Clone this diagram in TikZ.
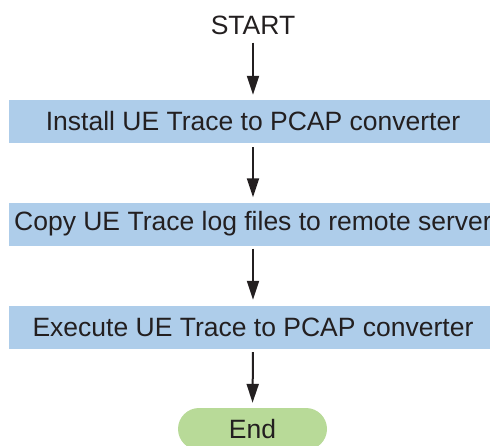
\documentclass[tikz,border=0pt]{standalone}
\usepackage{fontspec}
\setmainfont{Liberation Sans}
\usetikzlibrary{arrows.meta}
\definecolor{boxblue}{HTML}{AECDEA}
\definecolor{endgreen}{HTML}{B8DA98}
\definecolor{ink}{HTML}{231F20}
\begin{document}
\begin{tikzpicture}[x=1pt,y=1pt,
  every node/.style={font=\fontsize{26.5}{30}\selectfont, text=ink},
  stepbox/.style={rectangle, fill=boxblue, minimum width=488pt, minimum height=43pt, inner sep=0pt},
  endbox/.style={rectangle, fill=endgreen, rounded corners=21pt, minimum width=149pt, minimum height=42pt, inner sep=0pt},
  flow/.style={draw=ink, line width=2pt, -{Triangle[length=19pt,width=12pt]}}]
\useasboundingbox (0,0) rectangle (490,-445);
\clip (0,0) rectangle (490,-445);
\node[inner sep=0pt] (start) at (253,-25) {START};
\node[stepbox] (b1) at (253,-121.5) {Install UE Trace to PCAP converter};
\node[stepbox] (b2) at (253,-224) {Copy UE Trace log files to remote server};
\node[stepbox] (b3) at (253,-327.5) {Execute UE Trace to PCAP converter};
\node[endbox] (e) at (252.5,-429) {End};
\draw[flow, shorten <=8pt, shorten >=5pt] (start.south) -- (b1.north);
\draw[flow, shorten <=4pt, shorten >=5pt] (b1.south) -- (b2.north);
\draw[flow, shorten <=3pt, shorten >=6pt] (b2.south) -- (b3.north);
\draw[flow, shorten <=3pt, shorten >=5pt] (b3.south) -- (e.north);
\end{tikzpicture}
\end{document}
